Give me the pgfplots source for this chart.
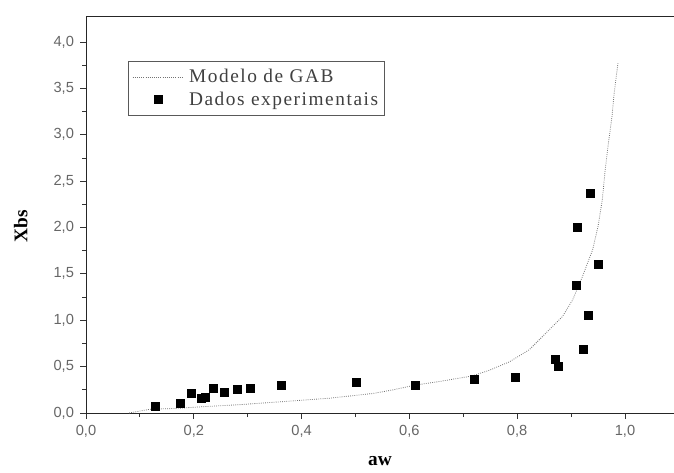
\documentclass[border=0pt]{standalone}
\usepackage{fontspec}
\usepackage{pgfplots}
\pgfplotsset{compat=1.18}
\setmainfont{Liberation Serif}
\newfontfamily\ticksfont{Liberation Sans}
\newfontfamily\legfont[LetterSpace=8]{Liberation Serif}

\begin{document}
\begin{tikzpicture}[x=0.75pt,y=0.75pt]
\useasboundingbox (-86,-59) rectangle (588,413);
\begin{axis}[
  at={(0,0)}, anchor=south west,
  scale only axis,
  width=441pt, height=297.75pt,
  xmin=0, xmax=1.091, ymin=0, ymax=4.28,
  axis x line=box, axis y line=left,
  axis line style={black!85, line width=0.7pt, -},
  xtick={0,0.2,...,1.0}, ytick={0,0.5,...,4.0},
  minor x tick num=1, minor y tick num=1,
  xtick pos=bottom, ytick pos=left,
  tick align=outside,
  major tick length=4.5pt, minor tick length=3pt,
  tick style={black!80, line width=0.6pt},
  /pgf/number format/assume math mode=true,
  /pgf/number format/use comma,
  /pgf/number format/fixed, /pgf/number format/fixed zerofill,
  /pgf/number format/precision=1,
  tick label style={font=\ticksfont\fontsize{11}{12}\selectfont, text=black!60},
  xticklabel style={yshift=-1pt},
  yticklabel style={xshift=-1pt},
  xlabel={\textbf{aw}},
  ylabel={\textbf{Xbs}},
  label style={font=\fontsize{14.5}{15}\selectfont},
  xlabel style={at={(axis description cs:0.5,0)}, anchor=center, yshift=-36pt},
  ylabel style={at={(axis description cs:0,0.47)}, anchor=center, yshift=49pt},
  legend style={
    at={(axis description cs:0.0714,0.887)}, anchor=north west,
    draw=black!65, line width=0.5pt,
    font=\legfont\fontsize{14.5}{15}\selectfont, text=black!75,
    inner xsep=3pt, inner ysep=4pt, row sep=1.5pt,
    /tikz/every odd column/.append style={column sep=2pt},
  },
  legend cell align=left,
  legend image code/.code={
    \draw[#1, mark repeat=2, mark phase=2] plot coordinates {(0pt,0pt) (19pt,0pt) (38pt,0pt)};
  },
]
% GAB isotherm fit
\addplot[black!55, densely dotted, line width=0.6pt, mark=none] coordinates {
  (0.080,0.00) (0.118,0.04) (0.168,0.05) (0.223,0.07) (0.285,0.09)
  (0.359,0.12) (0.452,0.16) (0.532,0.21) (0.570,0.25) (0.610,0.30)
  (0.656,0.34) (0.717,0.40) (0.748,0.46) (0.785,0.55) (0.822,0.68)
  (0.853,0.86) (0.884,1.04) (0.903,1.22) (0.921,1.47) (0.940,1.76)
  (0.950,2.01) (0.958,2.30) (0.964,2.66) (0.970,2.94) (0.976,3.20)
  (0.980,3.45) (0.987,3.77)
};
\addlegendentry{Modelo de GAB}
% experimental sorption data
\addplot[only marks, mark=square*, mark size=3pt, black] coordinates {
  (0.128,0.075) (0.174,0.10) (0.196,0.21) (0.214,0.16) (0.222,0.17)
  (0.237,0.27) (0.256,0.22) (0.281,0.255) (0.305,0.27) (0.362,0.30)
  (0.502,0.33) (0.611,0.30) (0.720,0.36) (0.797,0.38) (0.870,0.575)
  (0.876,0.50) (0.922,0.69) (0.932,1.05) (0.909,1.38) (0.950,1.60)
  (0.935,2.37) (0.911,2.00)
};
\addlegendentry{Dados experimentais}
\end{axis}
\end{tikzpicture}
\end{document}
